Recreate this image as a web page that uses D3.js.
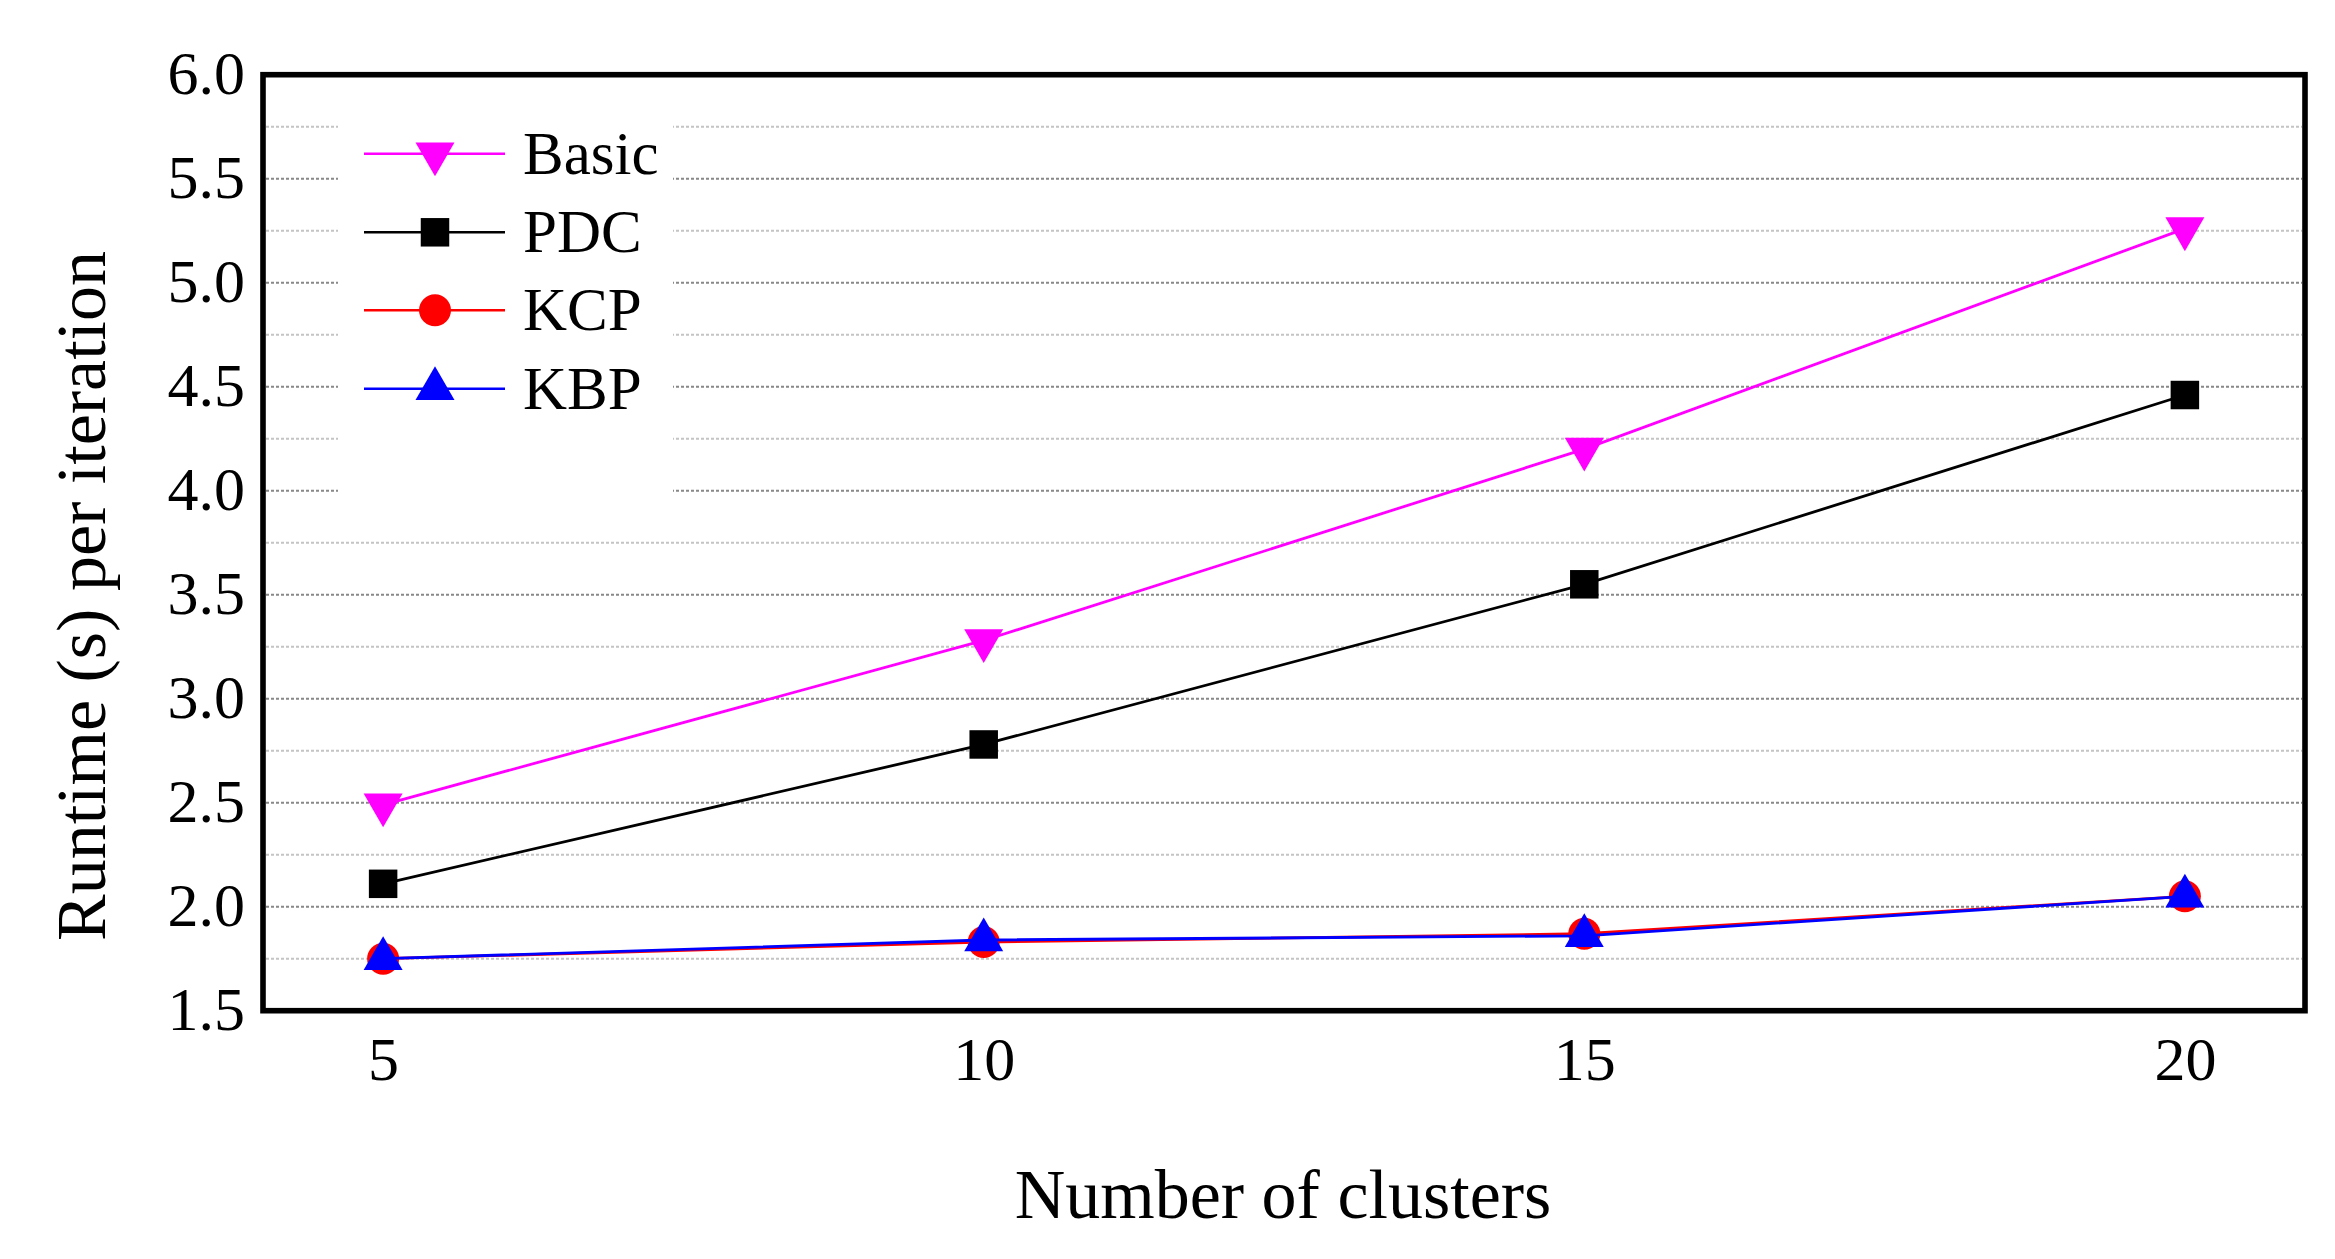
<!DOCTYPE html>
<html>
<head>
<meta charset="utf-8">
<script src="https://cdn.jsdelivr.net/npm/d3@7"></script>
<style>
  body { margin: 0; background: #fff; }
  svg text { font-family: "Liberation Serif", "Times New Roman", serif !important; fill: #000; }
</style>
</head>
<body>
<div id="chart"></div>
<script>
// chart values
var clusters = [5, 10, 15, 20];
var basicRuntime = [2.49, 3.28, 4.20, 5.26];
var pdcRuntime = [2.11, 2.78, 3.55, 4.46];
var kcpRuntime = [1.75, 1.83, 1.87, 2.05];
var kbpRuntime = [1.75, 1.84, 1.86, 2.05];
var seriesNames = ["Basic", "PDC", "KCP", "KBP"];
var yTickLabels = [1.5, 2.0, 2.5, 3.0, 3.5, 4.0, 4.5, 5.0, 5.5, 6.0];
var xTickLabels = [5, 10, 15, 20];

var svgWidth = 2335;
var svgHeight = 1259;
var serif = "'Liberation Serif', 'Times New Roman', serif";

var plot = { left: 263, right: 2305, top: 74.7, bottom: 1010.7 };

var svg = d3.select("#chart")
  .append("svg")
  .attr("width", svgWidth)
  .attr("height", svgHeight)
  .style("font-family", serif);

var xScale = d3.scaleLinear().domain([4, 21]).range([plot.left, plot.right]);
var yScale = d3.scaleLinear().domain([1.5, 6.0]).range([plot.bottom, plot.top]);

// gridlines: minor every 0.25, major every 0.5
var gridGroup = svg.append("g").attr("class", "grid");
d3.range(1.75, 6.0, 0.25).forEach(function(v) {
  var major = Math.abs(v * 2 - Math.round(v * 2)) < 1e-6;
  gridGroup.append("line")
    .attr("x1", plot.left + 3)
    .attr("x2", plot.right - 3)
    .attr("y1", yScale(v))
    .attr("y2", yScale(v))
    .attr("stroke", major ? "#888888" : "#c4c4c4")
    .attr("stroke-width", 2)
    .attr("stroke-dasharray", "3,2");
});

// legend background hides the gridlines behind it
svg.append("rect")
  .attr("x", 338)
  .attr("y", 95)
  .attr("width", 335)
  .attr("height", 420)
  .attr("fill", "#fff");

// axes
var leftAxis = d3.axisLeft(yScale)
  .tickValues(yTickLabels)
  .tickFormat(d3.format(".1f"))
  .tickSize(0)
  .tickPadding(18);

var bottomAxis = d3.axisBottom(xScale)
  .tickValues(xTickLabels)
  .tickFormat(d3.format("d"))
  .tickSize(0)
  .tickPadding(25);

var yAxisG = svg.append("g")
  .attr("transform", `translate(${plot.left}, 0)`)
  .call(leftAxis)
  .attr("font-family", null)
  .attr("font-size", null);
yAxisG.select(".domain").remove();
yAxisG.selectAll("text")
  .style("font-family", serif)
  .style("font-size", "62px")
  .attr("fill", "#000")
  .attr("dy", "0.3em");

var xAxisG = svg.append("g")
  .attr("transform", `translate(0, ${plot.bottom})`)
  .call(bottomAxis)
  .attr("font-family", null)
  .attr("font-size", null);
xAxisG.select(".domain").remove();
xAxisG.selectAll("text")
  .style("font-family", serif)
  .style("font-size", "62px")
  .attr("fill", "#000");

// series
var series = [
  { name: seriesNames[0], values: basicRuntime, color: "#ff00ff", symbol: d3.symbolTriangle, size: 658, rotate: 180 },
  { name: seriesNames[1], values: pdcRuntime, color: "#000000", symbol: d3.symbolSquare, size: 812, rotate: 0 },
  { name: seriesNames[2], values: kcpRuntime, color: "#ff0000", symbol: d3.symbolCircle, size: 804, rotate: 0 },
  { name: seriesNames[3], values: kbpRuntime, color: "#0000ff", symbol: d3.symbolTriangle, size: 658, rotate: 0 }
];

var line = d3.line()
  .x(function(d) { return xScale(d[0]); })
  .y(function(d) { return yScale(d[1]); });

series.forEach(function(s) {
  var pts = clusters.map(function(c, i) { return [c, s.values[i]]; });
  var g = svg.append("g");

  g.append("path")
    .datum(pts)
    .attr("d", line)
    .attr("fill", "none")
    .attr("stroke", s.color)
    .attr("stroke-width", 2.8);

  g.selectAll("path.marker")
    .data(pts)
    .enter()
    .append("path")
    .attr("class", "marker")
    .attr("d", d3.symbol().type(s.symbol).size(s.size))
    .attr("transform", function(d) {
      return `translate(${xScale(d[0])}, ${yScale(d[1])}) rotate(${s.rotate})`;
    })
    .attr("fill", s.color);
});

// legend
var legendY = [153.7, 232.3, 310.3, 388.7];
series.forEach(function(s, i) {
  var g = svg.append("g").attr("transform", `translate(0, ${legendY[i]})`);
  g.append("line")
    .attr("x1", 364)
    .attr("x2", 505)
    .attr("y1", 0)
    .attr("y2", 0)
    .attr("stroke", s.color)
    .attr("stroke-width", 2.6);
  g.append("path")
    .attr("d", d3.symbol().type(s.symbol).size(s.size))
    .attr("transform", `translate(435, 0) rotate(${s.rotate})`)
    .attr("fill", s.color);
  g.append("text")
    .attr("x", 523)
    .attr("y", 0)
    .attr("dy", "0.33em")
    .style("font-size", "61px")
    .text(s.name);
});

// frame
svg.append("rect")
  .attr("x", plot.left)
  .attr("y", plot.top)
  .attr("width", plot.right - plot.left)
  .attr("height", plot.bottom - plot.top)
  .attr("fill", "none")
  .attr("stroke", "#000")
  .attr("stroke-width", 5.6);

// axis titles
svg.append("text")
  .attr("transform", "translate(105, 596) rotate(-90)")
  .attr("text-anchor", "middle")
  .style("font-size", "70px")
  .text("Runtime (s) per iteration");

svg.append("text")
  .attr("x", 1283)
  .attr("y", 1218)
  .attr("text-anchor", "middle")
  .style("font-size", "70px")
  .text("Number of clusters");
</script>
</body>
</html>
